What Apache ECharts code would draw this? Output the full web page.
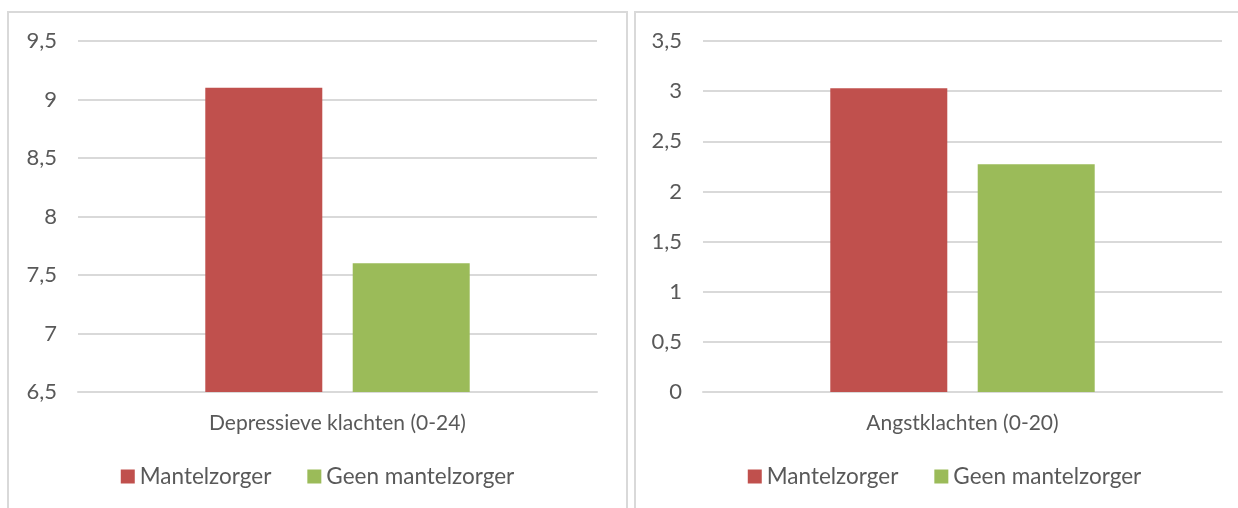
<!DOCTYPE html>
<html>
<head>
<meta charset="utf-8">
<script src="https://cdn.jsdelivr.net/npm/echarts@6/dist/echarts.min.js"></script>
<style>
body { margin: 0; background: #fff; width: 1238px; height: 508px; overflow: hidden; position: relative; }
.box { position: absolute; border: 2px solid #d9d9d9; box-sizing: border-box; background: #fff; }
#chart1 { left: 7px; top: 11px; width: 621px; height: 520px; }
#chart2 { left: 634px; top: 11px; width: 621px; height: 520px; }
</style>
</head>
<body>
<div id="chart1" class="box"></div>
<div id="chart2" class="box"></div>
<script>
var seriesNames = ['Mantelzorger', 'Geen mantelzorger'];
var colors = ['#c0504d', '#9bbb59'];
var cat1 = ['Depressieve klachten (0-24)'];
var cat2 = ['Angstklachten (0-20)'];
var mantel1 = [9.1];
var geen1 = [7.6];
var mantel2 = [3.03];
var geen2 = [2.27];

var myChart1 = echarts.init(document.getElementById('chart1'));
var myChart2 = echarts.init(document.getElementById('chart2'));

function fmt(v) {
	return String(v).replace('.', ',');
}

function makeOption(cats, a, b, min, max, gridLeft) {
	return {
		color: colors,
		textStyle: { fontFamily: 'Lato', color: '#595959' },
		animation: false,
		legend: {
			data: seriesNames,
			bottom: 36,
			left: 'center',
			itemWidth: 14,
			itemHeight: 14,
			itemGap: 36,
			icon: 'rect',
			textStyle: { fontSize: 22.5, color: '#595959', fontFamily: 'Lato', padding: [0, 0, 0, 0] }
		},
		grid: {
			left: gridLeft,
			width: 519,
			top: 28,
			height: 351,
			containLabel: false
		},
		xAxis: {
			type: 'category',
			data: cats,
			axisLine: { lineStyle: { color: '#d9d9d9', width: 2 } },
			axisTick: { show: false },
			axisLabel: { fontSize: 21, color: '#595959', margin: 21 }
		},
		yAxis: {
			type: 'value',
			min: min,
			max: max,
			interval: 0.5,
			axisLine: { show: false },
			axisTick: { show: false },
			splitLine: { lineStyle: { color: '#d9d9d9', width: 2 } },
			axisLabel: { fontSize: 22, color: '#595959', margin: 21, formatter: fmt }
		},
		series: [{
				name: seriesNames[0],
				type: 'bar',
				data: a,
				barWidth: 117,
				barGap: '26%'
			},
			{
				name: seriesNames[1],
				type: 'bar',
				data: b,
				barWidth: 117,
				barGap: '26%'
			}
		]
	};
}

myChart1.setOption(makeOption(cat1, mantel1, geen1, 6.5, 9.5, 69));
myChart2.setOption(makeOption(cat2, mantel2, geen2, 0, 3.5, 67));
</script>
</body>
</html>
